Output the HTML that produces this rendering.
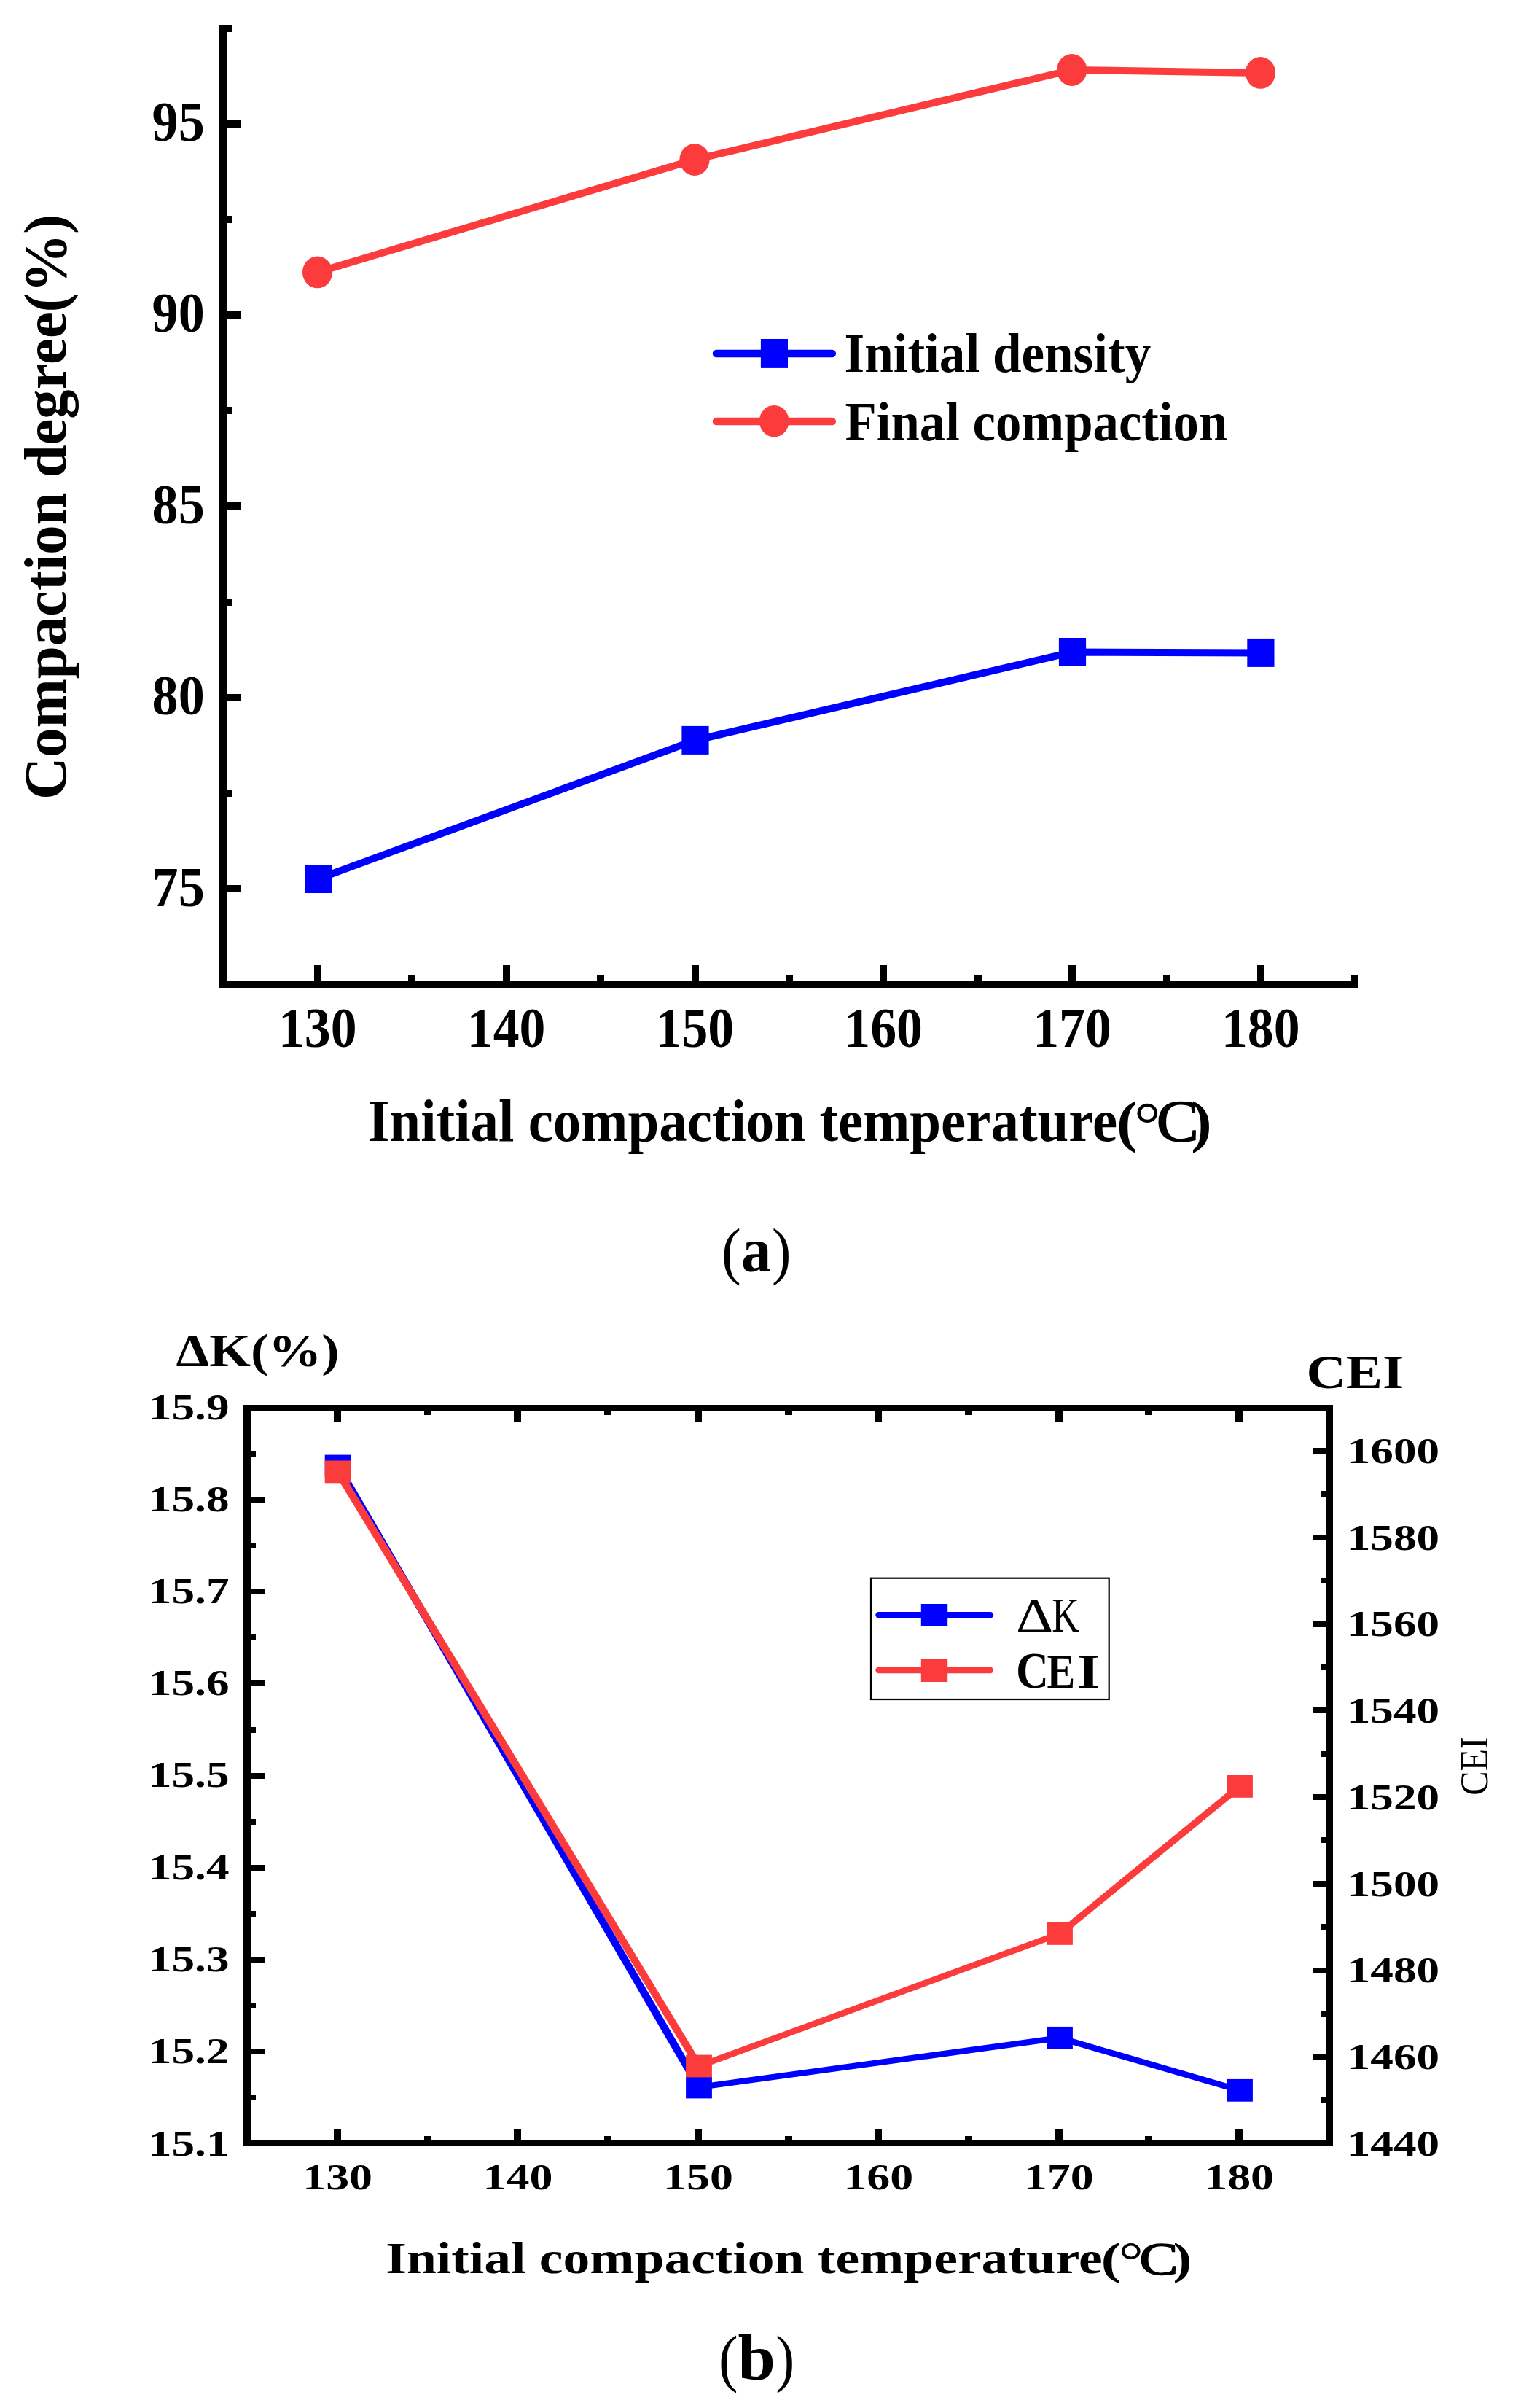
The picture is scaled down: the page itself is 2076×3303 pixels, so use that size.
<!DOCTYPE html>
<html lang="en"><head><meta charset="utf-8"><title>Compaction charts</title>
<style>
html,body{margin:0;padding:0;background:#fff;}
svg{display:block;}
text{font-family:"Liberation Serif","Noto Serif CJK SC",serif;white-space:pre;}
</style></head><body>
<svg width="2076" height="3303" viewBox="0 0 2076 3303">
<rect width="2076" height="3303" fill="#fff"/>
<g id="chart-a">
<g fill="#000" shape-rendering="crispEdges">
<rect x="301" y="34" width="10" height="1321"/>
<rect x="301" y="1345" width="1563" height="10"/>
<rect x="311" y="1213.8" width="20" height="10"/>
<rect x="311" y="951.6" width="20" height="10"/>
<rect x="311" y="689.4" width="20" height="10"/>
<rect x="311" y="427.2" width="20" height="10"/>
<rect x="311" y="165.0" width="20" height="10"/>
<rect x="311" y="1082.7" width="8" height="10"/>
<rect x="311" y="820.5" width="8" height="10"/>
<rect x="311" y="558.3" width="8" height="10"/>
<rect x="311" y="296.1" width="8" height="10"/>
<rect x="311" y="33.9" width="8" height="10"/>
<rect x="431.0" y="1324" width="10" height="21"/>
<rect x="689.8" y="1324" width="10" height="21"/>
<rect x="948.6" y="1324" width="10" height="21"/>
<rect x="1207.4" y="1324" width="10" height="21"/>
<rect x="1466.2" y="1324" width="10" height="21"/>
<rect x="1725.0" y="1324" width="10" height="21"/>
<rect x="560.4" y="1337" width="10" height="8"/>
<rect x="819.2" y="1337" width="10" height="8"/>
<rect x="1078.0" y="1337" width="10" height="8"/>
<rect x="1336.8" y="1337" width="10" height="8"/>
<rect x="1595.6" y="1337" width="10" height="8"/>
<rect x="1854.4" y="1337" width="10" height="8"/>
</g>
<text transform="translate(208.62 1242.52) scale(0.9251 1)" font-size="77.93" font-weight="bold" fill="#000">75</text>
<text transform="translate(208.62 980.05) scale(0.9251 1)" font-size="77.93" font-weight="bold" fill="#000">80</text>
<text transform="translate(208.62 717.57) scale(0.9251 1)" font-size="77.93" font-weight="bold" fill="#000">85</text>
<text transform="translate(208.62 455.10) scale(0.9251 1)" font-size="77.93" font-weight="bold" fill="#000">90</text>
<text transform="translate(208.62 192.62) scale(0.9251 1)" font-size="77.93" font-weight="bold" fill="#000">95</text>
<text transform="translate(381.96 1436.42) scale(0.9243 1)" font-size="77.63" font-weight="bold" fill="#000">130</text>
<text transform="translate(640.76 1436.42) scale(0.9243 1)" font-size="77.63" font-weight="bold" fill="#000">140</text>
<text transform="translate(899.56 1436.42) scale(0.9243 1)" font-size="77.63" font-weight="bold" fill="#000">150</text>
<text transform="translate(1158.36 1436.42) scale(0.9243 1)" font-size="77.63" font-weight="bold" fill="#000">160</text>
<text transform="translate(1417.16 1436.42) scale(0.9243 1)" font-size="77.63" font-weight="bold" fill="#000">170</text>
<text transform="translate(1675.96 1436.42) scale(0.9243 1)" font-size="77.63" font-weight="bold" fill="#000">180</text>
<polyline fill="none" stroke="#0000ff" stroke-width="10" points="436.6,1205.5 954.0,1015.4 1471.5,894.5 1729.9,895.4"/>
<rect x="418.0" y="1186.0" width="37.2" height="39" fill="#0000ff"/>
<rect x="935.4" y="995.9" width="37.2" height="39" fill="#0000ff"/>
<rect x="1452.9" y="875.0" width="37.2" height="39" fill="#0000ff"/>
<rect x="1711.3" y="875.9" width="37.2" height="39" fill="#0000ff"/>
<polyline fill="none" stroke="#fc3c3c" stroke-width="10" points="435.6,373.4 953.0,219.0 1470.7,96.0 1729.5,99.9"/>
<ellipse cx="435.6" cy="373.4" rx="20.6" ry="21.9" fill="#fc3c3c"/>
<ellipse cx="953.0" cy="219.0" rx="20.6" ry="21.9" fill="#fc3c3c"/>
<ellipse cx="1470.7" cy="96.0" rx="20.6" ry="21.9" fill="#fc3c3c"/>
<ellipse cx="1729.5" cy="99.9" rx="20.6" ry="21.9" fill="#fc3c3c"/>
<line x1="983" y1="485" x2="1141.8" y2="485" stroke="#0000ff" stroke-width="10.5" stroke-linecap="round"/>
<rect x="1043.9" y="465" width="37.1" height="39.9" fill="#0000ff"/>
<line x1="983" y1="578" x2="1141.8" y2="578" stroke="#fc3c3c" stroke-width="10.5" stroke-linecap="round"/>
<ellipse cx="1062.2" cy="577.6" rx="20.3" ry="21.7" fill="#fc3c3c"/>
<text transform="translate(1158.49 510.30) scale(0.9279 1)" font-size="76.64" font-weight="bold" fill="#000">Initial density</text>
<text transform="translate(1159.56 603.50) scale(0.9231 1)" font-size="76.64" font-weight="bold" fill="#000">Final compaction</text>
<text transform="translate(90.37 1097.04) rotate(-90) scale(0.9781 1)" font-size="82.53" font-weight="bold">Compaction degree(%)</text>
<text><tspan x="504.40" y="1565.30" font-size="81.83" font-weight="bold" textLength="1028.90" lengthAdjust="spacingAndGlyphs">Initial compaction temperature</tspan><tspan x="1532.12" y="1565.39" font-size="77.25" font-weight="bold" textLength="28.73" lengthAdjust="spacingAndGlyphs">(</tspan><tspan x="1556.03" y="1571.26" font-size="87.60" font-weight="normal" textLength="36.75" lengthAdjust="spacingAndGlyphs">°</tspan><tspan x="1586.81" y="1565.09" font-size="81.34" font-weight="normal" textLength="58.14" lengthAdjust="spacingAndGlyphs" stroke="#000" stroke-width="1.6">C</tspan><tspan x="1634.22" y="1565.39" font-size="77.25" font-weight="bold" textLength="28.45" lengthAdjust="spacingAndGlyphs">)</tspan></text>
</g>
<text><tspan x="989.88" y="1744.74" font-size="85.95" font-weight="normal" textLength="26.77" lengthAdjust="spacingAndGlyphs">(</tspan><tspan x="1017.02" y="1744.14" font-size="86.46" font-weight="bold" textLength="41.22" lengthAdjust="spacingAndGlyphs">a</tspan><tspan x="1059.03" y="1744.74" font-size="85.95" font-weight="normal" textLength="26.38" lengthAdjust="spacingAndGlyphs">)</tspan></text>
<g id="chart-b">
<g fill="#000" shape-rendering="crispEdges">
<rect x="334" y="1927" width="10" height="1017"/>
<rect x="1820" y="1927" width="9" height="1017"/>
<rect x="334" y="1927" width="1495" height="8"/>
<rect x="334" y="2936" width="1495" height="8"/>
<rect x="344" y="2809.9" width="19" height="8"/>
<rect x="344" y="2683.8" width="19" height="8"/>
<rect x="344" y="2557.6" width="19" height="8"/>
<rect x="344" y="2431.5" width="19" height="8"/>
<rect x="344" y="2305.4" width="19" height="8"/>
<rect x="344" y="2179.3" width="19" height="8"/>
<rect x="344" y="2053.2" width="19" height="8"/>
<rect x="344" y="2872.9" width="7" height="8"/>
<rect x="344" y="2746.8" width="7" height="8"/>
<rect x="344" y="2620.7" width="7" height="8"/>
<rect x="344" y="2494.6" width="7" height="8"/>
<rect x="344" y="2368.5" width="7" height="8"/>
<rect x="344" y="2242.4" width="7" height="8"/>
<rect x="344" y="2116.3" width="7" height="8"/>
<rect x="344" y="1990.2" width="7" height="8"/>
<rect x="1801" y="2817.3" width="19" height="8"/>
<rect x="1801" y="2698.5" width="19" height="8"/>
<rect x="1801" y="2579.8" width="19" height="8"/>
<rect x="1801" y="2461.0" width="19" height="8"/>
<rect x="1801" y="2342.3" width="19" height="8"/>
<rect x="1801" y="2223.6" width="19" height="8"/>
<rect x="1801" y="2104.8" width="19" height="8"/>
<rect x="1801" y="1986.1" width="19" height="8"/>
<rect x="1813" y="2876.6" width="7" height="8"/>
<rect x="1813" y="2757.9" width="7" height="8"/>
<rect x="1813" y="2639.2" width="7" height="8"/>
<rect x="1813" y="2520.4" width="7" height="8"/>
<rect x="1813" y="2401.7" width="7" height="8"/>
<rect x="1813" y="2282.9" width="7" height="8"/>
<rect x="1813" y="2164.2" width="7" height="8"/>
<rect x="1813" y="2045.4" width="7" height="8"/>
<rect x="458.0" y="1935" width="10" height="16"/>
<rect x="458.0" y="2920" width="10" height="16"/>
<rect x="705.4" y="1935" width="10" height="16"/>
<rect x="705.4" y="2920" width="10" height="16"/>
<rect x="952.8" y="1935" width="10" height="16"/>
<rect x="952.8" y="2920" width="10" height="16"/>
<rect x="1200.2" y="1935" width="10" height="16"/>
<rect x="1200.2" y="2920" width="10" height="16"/>
<rect x="1447.6" y="1935" width="10" height="16"/>
<rect x="1447.6" y="2920" width="10" height="16"/>
<rect x="1695.0" y="1935" width="10" height="16"/>
<rect x="1695.0" y="2920" width="10" height="16"/>
<rect x="581.7" y="1935" width="10" height="6"/>
<rect x="581.7" y="2930" width="10" height="6"/>
<rect x="829.1" y="1935" width="10" height="6"/>
<rect x="829.1" y="2930" width="10" height="6"/>
<rect x="1076.5" y="1935" width="10" height="6"/>
<rect x="1076.5" y="2930" width="10" height="6"/>
<rect x="1323.9" y="1935" width="10" height="6"/>
<rect x="1323.9" y="2930" width="10" height="6"/>
<rect x="1571.3" y="1935" width="10" height="6"/>
<rect x="1571.3" y="2930" width="10" height="6"/>
</g>
<text transform="translate(203.84 2956.73) scale(1.2386 1)" font-size="51.06" font-weight="bold" fill="#000">15.1</text>
<text transform="translate(203.84 2829.72) scale(1.2386 1)" font-size="51.06" font-weight="bold" fill="#000">15.2</text>
<text transform="translate(203.84 2703.61) scale(1.2386 1)" font-size="51.06" font-weight="bold" fill="#000">15.3</text>
<text transform="translate(203.84 2577.50) scale(1.2386 1)" font-size="51.06" font-weight="bold" fill="#000">15.4</text>
<text transform="translate(203.84 2451.39) scale(1.2386 1)" font-size="51.06" font-weight="bold" fill="#000">15.5</text>
<text transform="translate(203.84 2325.28) scale(1.2386 1)" font-size="51.06" font-weight="bold" fill="#000">15.6</text>
<text transform="translate(203.84 2199.17) scale(1.2386 1)" font-size="51.06" font-weight="bold" fill="#000">15.7</text>
<text transform="translate(203.84 2073.06) scale(1.2386 1)" font-size="51.06" font-weight="bold" fill="#000">15.8</text>
<text transform="translate(203.84 1946.95) scale(1.2386 1)" font-size="51.06" font-weight="bold" fill="#000">15.9</text>
<text transform="translate(1848.74 2956.75) scale(1.2307 1)" font-size="51.36" font-weight="bold" fill="#000">1440</text>
<text transform="translate(1848.74 2838.01) scale(1.2307 1)" font-size="51.36" font-weight="bold" fill="#000">1460</text>
<text transform="translate(1848.74 2719.27) scale(1.2307 1)" font-size="51.36" font-weight="bold" fill="#000">1480</text>
<text transform="translate(1848.74 2600.53) scale(1.2307 1)" font-size="51.36" font-weight="bold" fill="#000">1500</text>
<text transform="translate(1848.74 2481.79) scale(1.2307 1)" font-size="51.36" font-weight="bold" fill="#000">1520</text>
<text transform="translate(1848.74 2363.05) scale(1.2307 1)" font-size="51.36" font-weight="bold" fill="#000">1540</text>
<text transform="translate(1848.74 2244.31) scale(1.2307 1)" font-size="51.36" font-weight="bold" fill="#000">1560</text>
<text transform="translate(1848.74 2125.57) scale(1.2307 1)" font-size="51.36" font-weight="bold" fill="#000">1580</text>
<text transform="translate(1848.74 2006.83) scale(1.2307 1)" font-size="51.36" font-weight="bold" fill="#000">1600</text>
<text transform="translate(415.18 3002.59) scale(1.2438 1)" font-size="51.41" font-weight="bold" fill="#000">130</text>
<text transform="translate(662.58 3002.59) scale(1.2438 1)" font-size="51.41" font-weight="bold" fill="#000">140</text>
<text transform="translate(909.98 3002.59) scale(1.2438 1)" font-size="51.41" font-weight="bold" fill="#000">150</text>
<text transform="translate(1157.38 3002.59) scale(1.2438 1)" font-size="51.41" font-weight="bold" fill="#000">160</text>
<text transform="translate(1404.78 3002.59) scale(1.2438 1)" font-size="51.41" font-weight="bold" fill="#000">170</text>
<text transform="translate(1652.18 3002.59) scale(1.2438 1)" font-size="51.41" font-weight="bold" fill="#000">180</text>
<g transform="scale(1.33333 1)"><polyline fill="none" stroke="#0000ff" stroke-width="8.2" points="347.70,2011 719.25,2863 1090.50,2795.3 1275.75,2867.3"/></g>
<rect x="445.7" y="1995.6" width="35.8" height="30.8" fill="#0000ff"/>
<rect x="941.1" y="2847.6" width="35.8" height="30.8" fill="#0000ff"/>
<rect x="1436.1" y="2779.9" width="35.8" height="30.8" fill="#0000ff"/>
<rect x="1683.1" y="2851.9" width="35.8" height="30.8" fill="#0000ff"/>
<g transform="scale(1.33333 1)"><polyline fill="none" stroke="#fc3c3c" stroke-width="8.2" points="347.70,2018.9 719.25,2834 1090.50,2652.4 1275.75,2450.4"/></g>
<rect x="445.7" y="2003.5" width="35.8" height="30.8" fill="#fc3c3c"/>
<rect x="941.1" y="2818.6" width="35.8" height="30.8" fill="#fc3c3c"/>
<rect x="1436.1" y="2637.0" width="35.8" height="30.8" fill="#fc3c3c"/>
<rect x="1683.1" y="2435.0" width="35.8" height="30.8" fill="#fc3c3c"/>
<rect x="1195" y="2164.7" width="326.7" height="166.3" fill="#fff" stroke="#000" stroke-width="2.2"/>
<line x1="1205.5" y1="2215.2" x2="1359" y2="2215.2" stroke="#0000ff" stroke-width="8.3" stroke-linecap="round"/>
<rect x="1263.8" y="2200" width="36.4" height="31" fill="#0000ff"/>
<line x1="1205.5" y1="2291" x2="1359" y2="2291" stroke="#fc3c3c" stroke-width="8.3" stroke-linecap="round"/>
<rect x="1263.8" y="2276" width="36.4" height="31" fill="#fc3c3c"/>
<text><tspan x="1394.01" y="2238.00" font-size="67.27" font-weight="normal" textLength="51.33" lengthAdjust="spacingAndGlyphs">Δ</tspan><tspan x="1443.24" y="2238.00" font-size="67.79" font-weight="normal" textLength="37.56" lengthAdjust="spacingAndGlyphs">K</tspan></text>
<text><tspan x="1393.89" y="2314.80" font-size="69.89" font-weight="bold" textLength="44.91" lengthAdjust="spacingAndGlyphs">C</tspan><tspan x="1436.48" y="2314.50" font-size="68.70" font-weight="bold" textLength="38.74" lengthAdjust="spacingAndGlyphs">E</tspan><tspan x="1477.90" y="2314.50" font-size="68.70" font-weight="bold" textLength="31.13" lengthAdjust="spacingAndGlyphs">I</tspan></text>
<text transform="translate(241.39 1874.20) scale(1.1467 1)" font-size="63.66" font-weight="bold" fill="#000">ΔK(%)</text>
<text transform="translate(1792.44 1904.00) scale(1.1458 1)" font-size="65.65" font-weight="bold" fill="#000">CEI</text>
<text transform="translate(2040.60 2462.80) rotate(-90) scale(0.9205 1)" font-size="54.35" font-weight="normal">CEI</text>
<text><tspan x="529.31" y="3118.20" font-size="61.83" font-weight="bold" textLength="983.40" lengthAdjust="spacingAndGlyphs">Initial compaction temperature</tspan><tspan x="1510.44" y="3119.03" font-size="61.05" font-weight="bold" textLength="27.82" lengthAdjust="spacingAndGlyphs">(</tspan><tspan x="1534.85" y="3125.14" font-size="72.40" font-weight="normal" textLength="34.11" lengthAdjust="spacingAndGlyphs">°</tspan><tspan x="1563.30" y="3119.56" font-size="63.79" font-weight="normal" textLength="53.36" lengthAdjust="spacingAndGlyphs" stroke="#000" stroke-width="1.4">C</tspan><tspan x="1609.48" y="3119.03" font-size="61.05" font-weight="bold" textLength="25.86" lengthAdjust="spacingAndGlyphs">)</tspan></text>
</g>
<text><tspan x="986.00" y="3263.67" font-size="86.28" font-weight="normal" textLength="26.64" lengthAdjust="spacingAndGlyphs">(</tspan><tspan x="1012.64" y="3264.00" font-size="89.65" font-weight="bold" textLength="51.47" lengthAdjust="spacingAndGlyphs">b</tspan><tspan x="1064.36" y="3263.67" font-size="86.28" font-weight="normal" textLength="25.99" lengthAdjust="spacingAndGlyphs">)</tspan></text>
</svg></body></html>
